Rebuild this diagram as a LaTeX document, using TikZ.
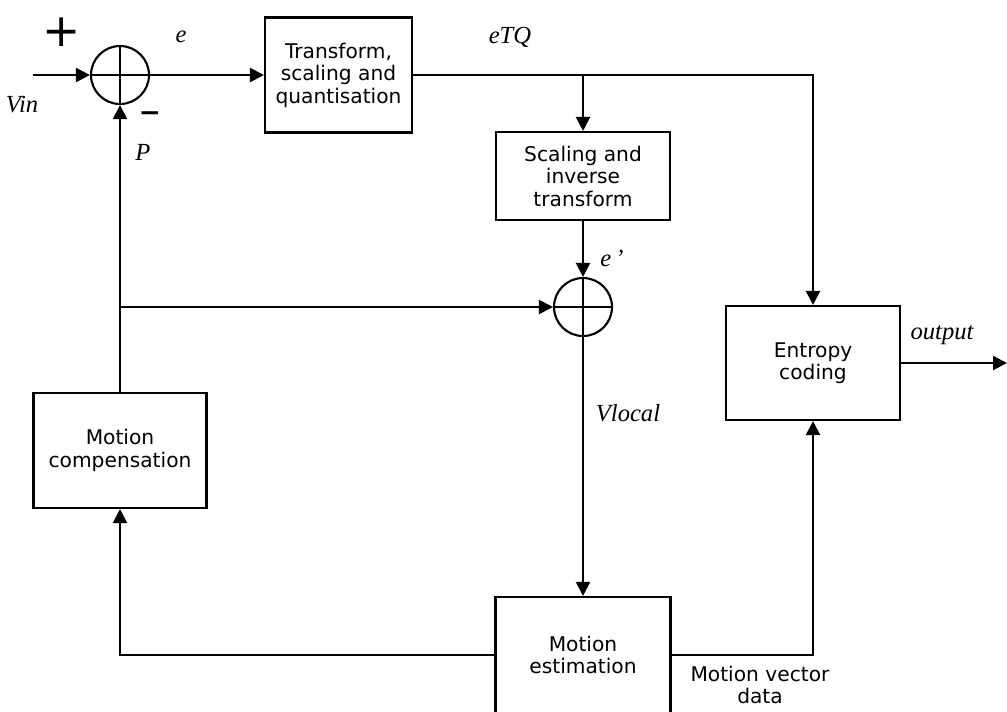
\documentclass[tikz,border=0pt]{standalone}
\usepackage{fontspec}
\setmainfont{Liberation Serif}
\setsansfont{DejaVu Sans}
\usetikzlibrary{arrows.meta,positioning}

\begin{document}
\begin{tikzpicture}[x=0.02cm, y=-0.02cm, >={Triangle[length=2.8mm,width=2.8mm]}, line width=1.2pt,
  block/.style={draw, rectangle, align=center, font=\sffamily\fontsize{11.5}{12.8}\selectfont},
  sumnode/.style={draw, circle, minimum size=1.16cm, inner sep=0pt,
    path picture={\draw (path picture bounding box.north) -- (path picture bounding box.south)
      (path picture bounding box.west) -- (path picture bounding box.east);}},
  sig/.style={font=\itshape\fontsize{14}{14}\selectfont}]
\useasboundingbox (0,0) rectangle (1007,711);
\clip (0,0) rectangle (1007,711);

% blocks
\node (s1) [sumnode] at (120,75) {};
\node (tq) [block, minimum width=2.94cm, minimum height=2.3cm] at (338.5,75) {Transform,\\ scaling and\\ quantisation};
\node (si) [block, minimum width=3.48cm, minimum height=1.76cm] at (583,176) {Scaling and\\ inverse\\ transform};
\node (s2) [sumnode] at (583,307) {};
\node (ent) [block, minimum width=3.48cm, minimum height=2.28cm] at (813,363) {Entropy\\ coding};
\node (mc) [block, minimum width=3.46cm, minimum height=2.3cm] at (120,450.5) {Motion\\ compensation};
\node (me) [block, minimum width=3.5cm, minimum height=2.32cm] at (583,655) {Motion\\ estimation};

\coordinate (vin) at (33,75);
\coordinate (br) at (583,75);
\coordinate (jn) at (120,307);
\coordinate (out) at (1007,363);

% connections
\draw[->] (vin) -- (s1);
\draw[->] (s1) -- (tq);
\draw[->] (tq) -| (ent);
\draw[->] (br) -- (si);
\draw[->] (si) -- (s2);
\draw[->] (mc) -- (s1);
\draw[->] (jn) -- (s2);
\draw[->] (s2) -- (me);
\draw[->] (me.west) -| (mc.south);
\draw[->] (me.east) -| (ent.south);
\draw[->] (ent) -- (out);

% labels
\node (plus) at (62,32) {\sffamily\fontsize{26}{26}\selectfont +};
\node (minus) at (150,117) {\sffamily\bfseries\fontsize{15}{15}\selectfont −};
\node (le) [sig] at (181,37) {e};
\node (lvin) [sig] at (22,105) {Vin};
\node (lp) [sig] at (143,152) {P};
\node (letq) [sig] at (510,37) {eTQ};
\node (lep) [sig] at (612,258) {e\,'};
\node (lvl) [sig] at (628,413) {Vlocal};
\node (lout) [sig] at (942,335) {output};
\node (lmv) [align=center, font=\sffamily\fontsize{11.5}{12.8}\selectfont] at (760,685) {Motion vector\\ data};
\end{tikzpicture}
\end{document}
